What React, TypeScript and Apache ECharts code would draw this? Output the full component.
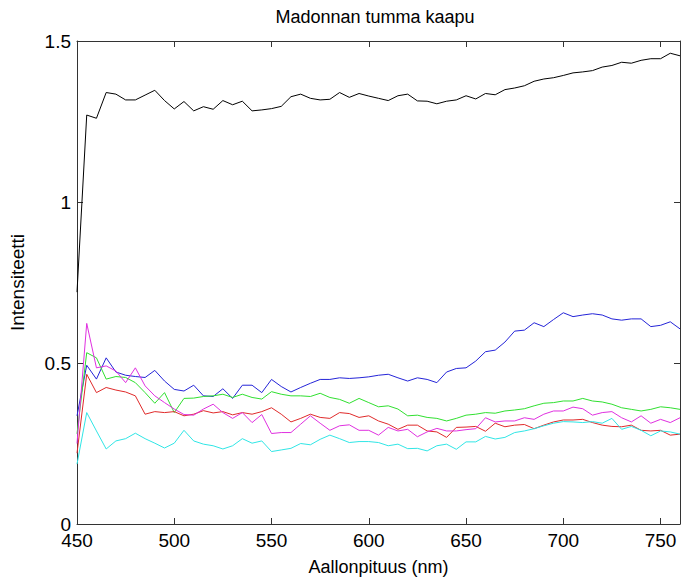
import React, { useEffect, useRef } from "react";
import * as echarts from "echarts";

const titleText = "Madonnan tumma kaapu";
const xName = "Aallonpituus (nm)";
const yName = "Intensiteetti";

const wavelengths = [
  450, 455, 460, 465, 470, 475, 480, 485, 490, 495, 500, 505, 510, 515, 520, 525,
  530, 535, 540, 545, 550, 555, 560, 565, 570, 575, 580, 585, 590, 595, 600, 605,
  610, 615, 620, 625, 630, 635, 640, 645, 650, 655, 660, 665, 670, 675, 680, 685,
  690, 695, 700, 705, 710, 715, 720, 725, 730, 735, 740, 745, 750, 755, 760,
];

const blackValues = [
  0.72, 1.27, 1.26, 1.34, 1.335, 1.317, 1.317, 1.332, 1.347, 1.315, 1.289, 1.312, 1.283, 1.296, 1.288, 1.315,
  1.302, 1.313, 1.283, 1.286, 1.29, 1.297, 1.327, 1.335, 1.322, 1.317, 1.319, 1.34, 1.325, 1.337, 1.329, 1.322,
  1.315, 1.33, 1.335, 1.314, 1.313, 1.305, 1.313, 1.317, 1.33, 1.32, 1.337, 1.333, 1.349, 1.354, 1.361, 1.375,
  1.382, 1.386, 1.393, 1.401, 1.404, 1.408, 1.419, 1.424, 1.434, 1.431, 1.44, 1.445, 1.445, 1.462, 1.454,
];

const blueValues = [
  0.336, 0.493, 0.45, 0.516, 0.472, 0.462, 0.458, 0.455, 0.477, 0.444, 0.418, 0.413, 0.431, 0.398, 0.396, 0.42,
  0.39, 0.431, 0.431, 0.408, 0.449, 0.427, 0.41, 0.424, 0.437, 0.449, 0.449, 0.454, 0.452, 0.454, 0.457, 0.462,
  0.465, 0.454, 0.444, 0.454, 0.449, 0.439, 0.472, 0.483, 0.485, 0.506, 0.535, 0.54, 0.565, 0.599, 0.602, 0.625,
  0.613, 0.635, 0.656, 0.644, 0.649, 0.653, 0.649, 0.637, 0.633, 0.637, 0.637, 0.613, 0.617, 0.628, 0.606,
];

const greenValues = [
  0.28, 0.532, 0.516, 0.45, 0.458, 0.455, 0.439, 0.408, 0.375, 0.408, 0.346, 0.39, 0.391, 0.396, 0.398, 0.403,
  0.393, 0.403, 0.393, 0.388, 0.411, 0.403, 0.398, 0.398, 0.396, 0.406, 0.393, 0.387, 0.375, 0.39, 0.377, 0.364,
  0.367, 0.357, 0.336, 0.338, 0.331, 0.328, 0.32, 0.328, 0.338, 0.341, 0.346, 0.344, 0.351, 0.354, 0.358, 0.367,
  0.375, 0.377, 0.382, 0.382, 0.39, 0.382, 0.379, 0.372, 0.361, 0.356, 0.351, 0.356, 0.364, 0.361, 0.356,
];

const redValues = [
  0.22, 0.465, 0.408, 0.424, 0.416, 0.41, 0.398, 0.341, 0.349, 0.346, 0.349, 0.336, 0.341, 0.352, 0.345, 0.349,
  0.339, 0.346, 0.341, 0.349, 0.361, 0.341, 0.317, 0.328, 0.341, 0.331, 0.328, 0.346, 0.343, 0.331, 0.336, 0.32,
  0.31, 0.294, 0.307, 0.307, 0.289, 0.286, 0.269, 0.3, 0.301, 0.303, 0.288, 0.313, 0.302, 0.307, 0.309, 0.296,
  0.307, 0.317, 0.323, 0.323, 0.325, 0.315, 0.307, 0.303, 0.302, 0.307, 0.291, 0.289, 0.291, 0.276, 0.279,
];

const magentaValues = [
  0.25, 0.623, 0.485, 0.491, 0.475, 0.439, 0.485, 0.429, 0.398, 0.377, 0.357, 0.34, 0.338, 0.357, 0.372, 0.346,
  0.328, 0.346, 0.315, 0.34, 0.281, 0.284, 0.284, 0.31, 0.336, 0.313, 0.291, 0.305, 0.308, 0.291, 0.291, 0.276,
  0.3, 0.289, 0.294, 0.271, 0.286, 0.297, 0.289, 0.289, 0.293, 0.296, 0.33, 0.317, 0.32, 0.32, 0.33, 0.325,
  0.341, 0.351, 0.351, 0.363, 0.358, 0.338, 0.346, 0.349, 0.33, 0.317, 0.336, 0.313, 0.325, 0.315, 0.33,
];

const cyanValues = [
  0.186, 0.346, 0.289, 0.233, 0.258, 0.265, 0.282, 0.265, 0.251, 0.236, 0.251, 0.291, 0.258, 0.248, 0.243, 0.233,
  0.243, 0.265, 0.251, 0.258, 0.225, 0.23, 0.235, 0.25, 0.246, 0.263, 0.276, 0.265, 0.253, 0.256, 0.256, 0.253,
  0.243, 0.248, 0.234, 0.235, 0.227, 0.243, 0.248, 0.232, 0.255, 0.255, 0.272, 0.264, 0.269, 0.284, 0.289, 0.296,
  0.305, 0.313, 0.318, 0.317, 0.315, 0.318, 0.313, 0.328, 0.294, 0.303, 0.291, 0.274, 0.289, 0.286, 0.279,
];

const seriesDefs = [
  { name: "musta", values: blackValues, color: "#000000" },
  { name: "sininen", values: blueValues, color: "#2424d8" },
  { name: "vihreä", values: greenValues, color: "#30e030" },
  { name: "punainen", values: redValues, color: "#e02a2a" },
  { name: "magenta", values: magentaValues, color: "#e030e0" },
  { name: "syaani", values: cyanValues, color: "#30e6e6" },
];

const FONT = "'Liberation Sans', Arial, Helvetica, sans-serif";
const AXIS_COLOR = "#333333";

export default function App() {
  const ref = useRef<HTMLDivElement>(null);

  useEffect(() => {
    document.body.style.margin = "0";
    if (!ref.current) return;
    const chart = echarts.init(ref.current, null, { renderer: "svg" });

    const commonX = {
      type: "value" as const,
      min: 450,
      max: 760,
      interval: 50,
      splitLine: { show: false },
      axisLine: { show: true, onZero: false, lineStyle: { color: AXIS_COLOR, width: 1 } },
      axisTick: { show: true, inside: true, length: 6, lineStyle: { color: AXIS_COLOR } },
    };
    const commonY = {
      type: "value" as const,
      min: 0,
      max: 1.5,
      interval: 0.5,
      splitLine: { show: false },
      axisLine: { show: true, onZero: false, lineStyle: { color: AXIS_COLOR, width: 1 } },
      axisTick: { show: true, inside: true, length: 6, lineStyle: { color: AXIS_COLOR } },
    };

    chart.setOption({
      animation: false,
      backgroundColor: "#ffffff",
      textStyle: { fontFamily: FONT },
      title: {
        text: titleText,
        left: 370,
        top: 3,
        textAlign: "center",
        textStyle: { fontFamily: FONT, fontSize: 18, fontWeight: "normal", color: "#000" },
      },
      grid: { left: 68, right: 1, top: 41, bottom: 56, containLabel: false },
      xAxis: [
        {
          ...commonX,
          position: "bottom",
          name: xName,
          nameLocation: "middle",
          nameGap: 34,
          nameTextStyle: { fontFamily: FONT, fontSize: 18, color: "#000" },
          axisLabel: {
            fontFamily: FONT,
            fontSize: 19,
            color: "#000",
            margin: 7,
            formatter: (v: number) => (v % 50 === 0 ? String(v) : ""),
          },
        },
        { ...commonX, position: "top", axisLabel: { show: false } },
      ],
      yAxis: [
        {
          ...commonY,
          position: "left",
          name: yName,
          nameLocation: "middle",
          nameGap: 50,
          nameTextStyle: { fontFamily: FONT, fontSize: 19, color: "#000" },
          axisLabel: { fontFamily: FONT, fontSize: 19, color: "#000", margin: 6 },
        },
        { ...commonY, position: "right", axisLabel: { show: false } },
      ],
      series: seriesDefs.map((s) => ({
        name: s.name,
        type: "line",
        xAxisIndex: 0,
        yAxisIndex: 0,
        data: wavelengths.map((w, i) => [w, s.values[i]]),
        showSymbol: false,
        symbol: "none",
        lineStyle: { color: s.color, width: 1 },
        itemStyle: { color: s.color },
        clip: true,
      })),
    });

    return () => chart.dispose();
  }, []);

  return <div ref={ref} style={{ width: 683, height: 581 }} />;
}
